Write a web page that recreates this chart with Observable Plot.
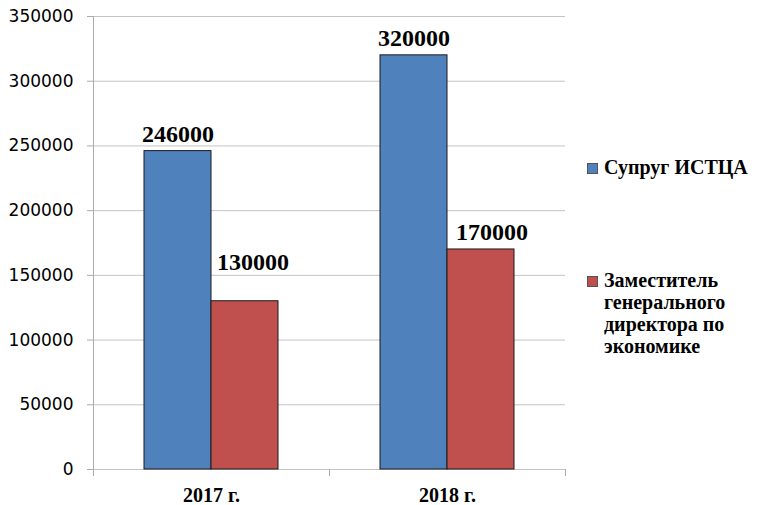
<!DOCTYPE html>
<html>
<head>
<meta charset="utf-8">
<script src="https://cdn.jsdelivr.net/npm/d3@7"></script>
<script src="https://cdn.jsdelivr.net/npm/@observablehq/plot@0.6"></script>
<style>
  body { margin: 0; background: #fff; }
  #wrap { position: relative; width: 757px; height: 505px; }
  .leg { position: absolute; left: 587px; font-family: "Liberation Serif", Tinos, "Times New Roman", "DejaVu Serif", serif; font-weight: bold; font-size: 20px; line-height: 22px; color: #000; }
  .leg .sw { position: absolute; left: 0; top: 7px; width: 9px; height: 9px; border: 0.5px solid #555; }
  .leg .tx { position: absolute; left: 17px; top: 0; width: 150px; }
</style>
</head>
<body>
<div id="wrap"></div>
<script>
const years = ["2017 г.", "2018 г."];
const series = ["Супруг ИСТЦА", "Заместитель генерального директора по экономике"];
const spouse = [246000, 320000];
const deputy = [130000, 170000];
const yTicks = [0, 50000, 100000, 150000, 200000, 250000, 300000, 350000];
const colors = ["#4F81BD", "#C0504D"];

const data = [];
years.forEach((yr, i) => {
  data.push({year: yr, series: series[0], value: spouse[i]});
  data.push({year: yr, series: series[1], value: deputy[i]});
});

const serifFont = "'Liberation Serif', Tinos, 'Times New Roman', 'DejaVu Serif', serif";
const axisColor = "#ababab";
const gridColor = "#c4c4c4";
const W = 757, H = 505, ML = 93, MR = 192, MT = 16, MB = 36, TICK = 6;
const plotH = H - MT - MB;

const labelStyle = {fontSize: 24, fontWeight: "bold", fontFamily: serifFont, fill: "#000", lineAnchor: "bottom"};

const chart = Plot.plot({
  width: W,
  height: H,
  marginLeft: ML,
  marginRight: MR,
  marginTop: MT,
  marginBottom: MB,
  style: {background: "#fff", color: "#000"},
  fx: {domain: years, padding: 0, label: null, axis: null},
  x: {domain: series, paddingInner: 0, paddingOuter: 0.76, axis: null},
  y: {domain: [0, 350000], axis: null},
  color: {domain: series, range: colors},
  marks: [
    Plot.ruleY(yTicks, {stroke: gridColor, strokeWidth: 1}),
    Plot.frame({anchor: "left", facet: "super", stroke: axisColor, insetBottom: -TICK}),
    Plot.frame({anchor: "left", stroke: axisColor, insetTop: plotH, insetBottom: -TICK}),
    Plot.frame({anchor: "right", stroke: axisColor, insetTop: plotH, insetBottom: -TICK}),
    Plot.barY(data, {fx: "year", x: "series", y: "value", fill: "series", stroke: "#1a1a1a", strokeWidth: 1}),
    Plot.text(data.filter(d => d.series === series[0]), {
      fx: "year", x: "series", y: "value", text: d => String(d.value), dy: -9, ...labelStyle
    }),
    Plot.text(data.filter(d => d.series === series[1] && d.year === years[1]), {
      fx: "year", x: "series", y: "value", text: d => String(d.value), dy: -9, dx: 11, ...labelStyle
    }),
    Plot.text(data.filter(d => d.series === series[1] && d.year === years[0]), {
      fx: "year", x: "series", y: "value", text: d => String(d.value), dy: -31, dx: 8, ...labelStyle
    }),
    Plot.axisY(yTicks, {
      tickSize: TICK, tickPadding: 14, stroke: axisColor, tickFormat: d => String(d),
      fontSize: 17, fontFamily: "DejaVu Sans, sans-serif", fill: "#000", label: null
    }),
    Plot.axisFx({
      anchor: "bottom", tickSize: 0, tickPadding: 18, label: null,
      fontSize: 20, fontWeight: "bold", fontFamily: serifFont, fill: "#000"
    })
  ]
});

const wrap = document.getElementById("wrap");
wrap.appendChild(chart);

const legTops = [156, 269];
series.forEach((s, i) => {
  const item = document.createElement("div");
  item.className = "leg";
  item.style.top = legTops[i] + "px";
  const sw = document.createElement("div");
  sw.className = "sw";
  sw.style.background = colors[i];
  const tx = document.createElement("div");
  tx.className = "tx";
  tx.textContent = s;
  item.appendChild(sw);
  item.appendChild(tx);
  wrap.appendChild(item);
});
</script>
</body>
</html>
